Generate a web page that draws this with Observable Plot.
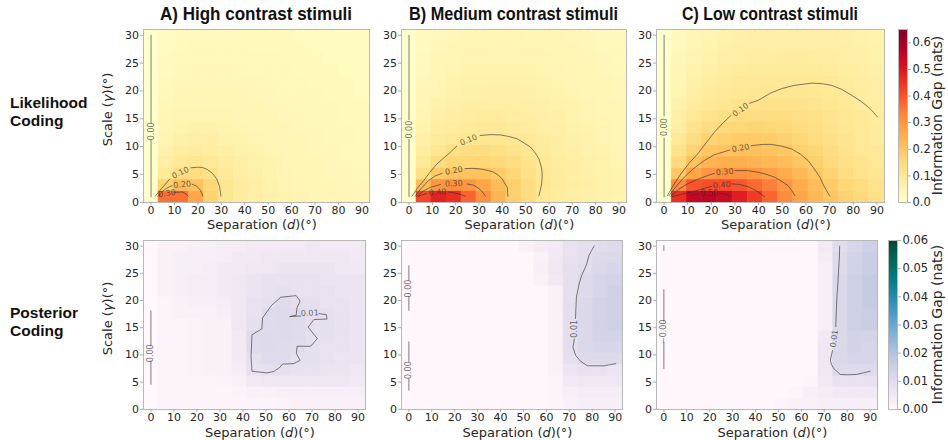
<!DOCTYPE html>
<html><head><meta charset="utf-8">
<script src="https://cdn.jsdelivr.net/npm/d3@7"></script>
<script src="https://cdn.jsdelivr.net/npm/@observablehq/plot@0.6"></script>
<style>
body{margin:0;background:#fff;}
#fig{position:relative;width:948px;height:440px;overflow:hidden;background:#fff;}
</style></head><body><div id="fig"></div>
<script>
// ---------- grid coordinates (cell centres) ----------
const sepX = [0, 6.43, 12.86, 19.29, 25.71, 32.14, 38.57, 45, 51.43, 57.86, 64.29, 70.71, 77.14, 83.57, 90];
const scaleY = [1, 3.07, 5.14, 7.21, 9.29, 11.36, 13.43, 15.5, 17.57, 19.64, 21.71, 23.79, 25.86, 27.93, 30];
const xTicks = [0, 10, 20, 30, 40, 50, 60, 70, 80, 90];
const yTicks = [0, 5, 10, 15, 20, 25, 30];
const likTicks = [0, 0.1, 0.2, 0.3, 0.4, 0.5, 0.6];
const postTicks = [0, 0.01, 0.02, 0.03, 0.04, 0.05, 0.06];
const titles = ["A)  High contrast stimuli", "B)  Medium contrast stimuli", "C)  Low contrast stimuli"];
const rowLabels = [["Likelihood", "Coding"], ["Posterior", "Coding"]];

// ---------- information gap values, rows = scaleY (bottom→top), cols = sepX ----------
const likHigh = [
 [0,.36,.36,.27,.17,.11,.085,.07,.06,.055,.05,.045,.04,.04,.035],
 [0,.17,.22,.21,.16,.11,.085,.07,.06,.05,.045,.04,.04,.035,.035],
 [0,.10,.14,.145,.125,.095,.075,.065,.055,.05,.045,.04,.035,.035,.03],
 [0,.075,.10,.11,.10,.085,.07,.06,.055,.045,.04,.04,.035,.03,.03],
 [0,.06,.08,.085,.08,.07,.06,.055,.05,.045,.04,.035,.035,.03,.03],
 [0,.05,.065,.07,.07,.06,.055,.05,.045,.04,.04,.035,.03,.03,.025],
 [0,.045,.055,.06,.06,.055,.05,.045,.04,.04,.035,.035,.03,.03,.025],
 [0,.04,.05,.05,.05,.05,.045,.045,.04,.035,.035,.03,.03,.025,.025],
 [0,.035,.045,.045,.045,.045,.04,.04,.035,.035,.03,.03,.03,.025,.025],
 [0,.03,.04,.04,.04,.04,.04,.035,.035,.03,.03,.03,.025,.025,.02],
 [0,.03,.035,.035,.035,.035,.035,.035,.03,.03,.03,.025,.025,.025,.02],
 [0,.025,.03,.035,.035,.035,.03,.03,.03,.03,.025,.025,.025,.02,.02],
 [0,.025,.03,.03,.03,.03,.03,.03,.03,.025,.025,.025,.02,.02,.02],
 [0,.02,.025,.03,.03,.03,.03,.025,.025,.025,.025,.02,.02,.02,.02],
 [0,.02,.025,.025,.025,.025,.025,.025,.025,.025,.02,.02,.02,.02,.018]
];
const likMed = [
 [0,.42,.48,.46,.38,.31,.24,.18,.14,.10,.085,.075,.065,.06,.055],
 [0,.22,.30,.31,.30,.27,.22,.18,.14,.11,.09,.08,.07,.06,.055],
 [0,.13,.19,.21,.21,.21,.19,.16,.13,.105,.09,.075,.065,.06,.055],
 [0,.10,.14,.16,.16,.16,.15,.14,.12,.10,.085,.075,.065,.06,.05],
 [0,.08,.11,.13,.14,.14,.13,.12,.11,.09,.08,.07,.06,.055,.05],
 [0,.065,.09,.10,.11,.11,.11,.105,.095,.085,.075,.065,.06,.05,.045],
 [0,.055,.075,.085,.09,.095,.095,.09,.085,.075,.07,.06,.055,.05,.045],
 [0,.05,.065,.075,.08,.085,.085,.08,.075,.07,.065,.055,.05,.045,.04],
 [0,.045,.06,.065,.07,.075,.075,.075,.07,.065,.06,.055,.05,.045,.04],
 [0,.04,.05,.06,.065,.065,.07,.07,.065,.06,.055,.05,.045,.04,.035],
 [0,.035,.045,.055,.06,.06,.06,.06,.06,.055,.05,.045,.04,.04,.035],
 [0,.03,.04,.05,.055,.055,.055,.055,.055,.05,.05,.045,.04,.035,.03],
 [0,.03,.04,.045,.05,.05,.05,.05,.05,.05,.045,.04,.04,.035,.03],
 [0,.025,.035,.04,.045,.045,.05,.05,.045,.045,.04,.04,.035,.03,.03],
 [0,.025,.03,.035,.04,.045,.045,.045,.045,.04,.04,.035,.035,.03,.03]
];
const likLow = [
 [0,.46,.55,.56,.54,.49,.44,.38,.32,.27,.23,.20,.17,.15,.13],
 [0,.32,.40,.41,.41,.40,.37,.34,.30,.26,.22,.19,.16,.14,.12],
 [0,.20,.27,.30,.31,.31,.30,.28,.26,.23,.20,.17,.14,.12,.11],
 [0,.15,.21,.24,.25,.25,.24,.23,.22,.20,.18,.15,.13,.115,.10],
 [0,.12,.17,.20,.21,.215,.215,.21,.20,.18,.16,.14,.12,.105,.095],
 [0,.10,.14,.17,.18,.19,.19,.185,.175,.16,.145,.13,.115,.10,.09],
 [0,.08,.12,.14,.155,.16,.165,.16,.155,.145,.135,.12,.11,.10,.09],
 [0,.07,.10,.12,.13,.14,.14,.14,.14,.13,.125,.115,.105,.095,.085],
 [0,.06,.085,.10,.11,.12,.125,.125,.125,.12,.115,.11,.10,.09,.08],
 [0,.05,.075,.09,.10,.105,.11,.11,.11,.11,.105,.10,.095,.085,.075],
 [0,.045,.065,.08,.09,.095,.095,.10,.10,.10,.10,.095,.09,.08,.07],
 [0,.04,.06,.07,.08,.085,.09,.09,.09,.09,.09,.085,.08,.075,.065],
 [0,.035,.05,.06,.07,.075,.08,.08,.085,.085,.08,.08,.075,.07,.06],
 [0,.03,.045,.055,.065,.07,.075,.075,.075,.075,.075,.075,.07,.065,.06],
 [0,.03,.04,.05,.06,.065,.07,.07,.07,.07,.07,.07,.065,.06,.055]
];
const postHigh = [
 [0,.001,.001,.001,.001,.001,.001,.001,.001,.0015,.002,.002,.002,.002,.002],
 [0,.001,.001,.001,.001,.001,.0015,.002,.002,.003,.003,.003,.003,.003,.003],
 [0,.001,.001,.001,.001,.0015,.002,.005,.006,.006,.006,.006,.006,.006,.005],
 [0,.001,.001,.0015,.002,.002,.004,.008,.009,.009,.008,.008,.007,.007,.006],
 [0,.001,.001,.0015,.002,.002,.005,.009,.0105,.0105,.009,.009,.008,.007,.007],
 [0,.001,.001,.0015,.002,.002,.005,.0105,.011,.0105,.010,.009,.008,.008,.007],
 [0,.001,.001,.0015,.002,.002,.005,.0105,.011,.011,.0105,.009,.009,.008,.007],
 [0,.001,.001,.0015,.002,.002,.006,.009,.0105,.011,.0105,.009,.009,.008,.007],
 [0,.001,.002,.002,.002,.003,.006,.008,.0105,.011,.0105,.0095,.009,.008,.007],
 [0,.001,.002,.003,.003,.004,.006,.008,.009,.0105,.0095,.009,.008,.008,.007],
 [0,.002,.003,.004,.004,.005,.006,.007,.008,.009,.008,.008,.008,.007,.007],
 [0,.002,.003,.004,.004,.005,.006,.007,.008,.008,.008,.008,.007,.007,.007],
 [0,.002,.003,.003,.004,.005,.005,.006,.006,.007,.007,.007,.007,.006,.006],
 [0,.002,.003,.003,.003,.004,.005,.005,.006,.006,.006,.006,.006,.006,.005],
 [0,.002,.002,.003,.003,.004,.004,.005,.005,.005,.005,.006,.005,.005,.005]
];
const postMed = [
 [0,.0005,.0005,.0005,.0005,.0005,.0005,.0005,.0005,.0005,.001,.002,.003,.003,.003],
 [0,.0005,.0005,.0005,.0005,.0005,.0005,.0005,.0005,.0005,.001,.003,.004,.004,.004],
 [0,.0005,.0005,.0005,.0005,.0005,.0005,.0005,.0005,.0005,.001,.005,.006,.006,.006],
 [0,.0005,.0005,.0005,.0005,.0005,.0005,.0005,.0005,.0005,.002,.007,.008,.008,.007],
 [0,.0005,.0005,.0005,.0005,.0005,.0005,.0005,.0005,.0005,.002,.009,.011,.011,.011],
 [0,.0005,.0005,.0005,.0005,.0005,.0005,.0005,.0005,.0005,.002,.0095,.012,.013,.013],
 [0,.0005,.0005,.0005,.0005,.0005,.0005,.0005,.0005,.0005,.002,.0095,.012,.014,.014],
 [0,.0005,.0005,.0005,.0005,.0005,.0005,.0005,.0005,.0005,.002,.0095,.012,.014,.015],
 [0,.0005,.0005,.0005,.0005,.0005,.0005,.0005,.0005,.0005,.002,.0095,.012,.014,.015],
 [0,.0005,.0005,.0005,.0005,.0005,.0005,.0005,.0005,.0005,.002,.0095,.012,.014,.015],
 [0,.0005,.0005,.0005,.0005,.0005,.0005,.0005,.0005,.0005,.002,.009,.011,.013,.015],
 [0,.0005,.0005,.0005,.0005,.0005,.0005,.0005,.0005,.002,.005,.009,.011,.013,.014],
 [0,.0005,.0005,.0005,.0005,.0005,.0005,.0005,.0005,.003,.006,.009,.010,.012,.013],
 [0,.0005,.0005,.0005,.0005,.0005,.0005,.0005,.0005,.002,.005,.008,.0095,.011,.012],
 [0,.0005,.0005,.0005,.0005,.0005,.0005,.0005,.002,.004,.005,.008,.009,.010,.011]
];
const postLow = [
 [0,.0005,.0005,.0005,.0005,.0005,.0005,.0005,.001,.002,.002,.003,.003,.003,.003],
 [0,.0005,.0005,.0005,.0005,.0005,.0005,.0005,.0005,.001,.003,.004,.005,.005,.005],
 [0,.0005,.0005,.0005,.0005,.0005,.0005,.0005,.0005,.0005,.001,.005,.008,.008,.008],
 [0,.0005,.0005,.0005,.0005,.0005,.0005,.0005,.0005,.0005,.0005,.006,.011,.011,.011],
 [0,.0005,.0005,.0005,.0005,.0005,.0005,.0005,.0005,.0005,.0005,.006,.012,.013,.013],
 [0,.0005,.0005,.0005,.0005,.0005,.0005,.0005,.0005,.0005,.0005,.006,.012,.014,.013],
 [0,.0005,.0005,.0005,.0005,.0005,.0005,.0005,.0005,.0005,.0005,.005,.012,.014,.014],
 [0,.0005,.0005,.0005,.0005,.0005,.0005,.0005,.0005,.0005,.0005,.003,.012,.015,.016],
 [0,.0005,.0005,.0005,.0005,.0005,.0005,.0005,.0005,.0005,.0005,.003,.012,.015,.016],
 [0,.0005,.0005,.0005,.0005,.0005,.0005,.0005,.0005,.0005,.0005,.003,.012,.015,.017],
 [0,.0005,.0005,.0005,.0005,.0005,.0005,.0005,.0005,.0005,.0005,.003,.012,.015,.017],
 [0,.0005,.0005,.0005,.0005,.0005,.0005,.0005,.0005,.0005,.0005,.003,.012,.015,.017],
 [0,.0005,.0005,.0005,.0005,.0005,.0005,.0005,.0005,.0005,.0005,.003,.011,.014,.016],
 [0,.0005,.0005,.0005,.0005,.0005,.0005,.0005,.0005,.0005,.0005,.004,.011,.014,.016],
 [0,.0005,.0005,.0005,.0005,.0005,.0005,.0005,.0005,.0005,.0005,.005,.010,.013,.015]
];

// ---------- contour lines and inline labels ----------
const cLikHigh = [
 [[0,1],[0,11.2]], [[0,14.3],[0,30]],
 [[1.8,1.1],[3.5,2],[5.6,3],[8,4.2]],
 [[17,6.2],[19.7,6.3],[22,6.25],[24,5.9],[26.2,5.2],[28,4.2],[29.3,2.8],[29.8,1.1]],
 [[2.8,1.1],[4.5,1.8],[6.5,2.5],[9,3]],
 [[17.5,3.25],[19.5,2.9],[21,2.2],[22.2,1.1]],
 [[3.5,1.1],[4.0,1.3]],
 [[9.6,1.8],[13.5,1.85],[15,1.5],[15.7,1.1]]
];
const lLikHigh = [
 {x:0,y:12.75,t:"0.00",a:-90},{x:12.5,y:5.3,t:"0.10",a:-26},{x:13.3,y:3.2,t:"0.20",a:-6},{x:6.8,y:1.6,t:"0.30",a:-8}
];
const cLikMed = [
 [[0,1],[0,11.3]], [[0,14.8],[0,30]],
 [[1.3,1.1],[3.5,2.5],[6.3,3.9],[9,5.4],[12,6.9],[15,8],[17.7,9],[20.5,10.1]],
 [[30.5,12],[35,12.15],[39.2,12.1],[43,11.8],[46.4,11.4],[49.5,10.6],[52.1,9.9],[54.2,8.8],[55.7,7.8],[56.8,6.2],[57.1,5.1],[56.9,3.5],[56.3,2.2],[55.7,1.2]],
 [[2.7,1.1],[5,2.4],[8.4,3.9],[11,4.7],[14.2,5.2]],
 [[24,6.05],[27,6.1],[30.6,6],[34,5.7],[36.3,5.4],[38.5,4.8],[39.9,4.2],[41.2,3.3],[42.1,2.7],[42.4,1.1]],
 [[3.4,1.1],[6,2],[9.2,2.7],[13.5,3.2]],
 [[24.9,3.3],[27.5,3.1],[29.2,2.7],[31.2,2],[32.8,1.1]],
 [[4.1,1.1],[5.7,1.35],[7.6,1.55]],
 [[16.8,1.85],[19,1.75],[21.3,1.5],[23,1.3],[24.2,1.1]]
];
const lLikMed = [
 {x:0,y:13.05,t:"0.00",a:-90},{x:25.5,y:11.2,t:"0.10",a:-22},{x:19.2,y:5.7,t:"0.20",a:-10},{x:19.2,y:3.35,t:"0.30",a:-2},{x:12.2,y:1.8,t:"0.40",a:-5}
];
const cLikLow = [
 [[0,1],[0,11.5]], [[0,15.5],[0,30]],
 [[1.4,1.2],[4,3.1],[7.1,5.1],[10.5,7],[14.2,8.7],[18,10.8],[21.3,12.6],[25,14.3],[28.3,15.6]],
 [[36.2,17.8],[39.7,18.3],[45,19.6],[49.6,20.4],[55,21],[62.4,21.4],[67,21.3],[70.9,21],[75,20.3],[79.4,19.2],[83,18.2],[86.4,17.1],[88.5,16.2],[90.3,15.3]],
 [[2.1,1.2],[5,2.8],[8.5,4.5],[12,5.9],[17,7.5],[21,8.5],[27.8,9.4]],
 [[36.8,10.15],[38.3,10.25],[42,10.4],[45.3,10.4],[49.5,10.1],[53.8,9.6],[57.5,8.7],[60.9,7.5],[63.5,6],[65.9,4.5],[67.5,3],[68.7,2.1],[70.1,1.1]],
 [[2.8,1.1],[6,2.3],[9.9,3.3],[14,4.1],[18.4,4.8],[21.3,5.2]],
 [[30,5.7],[35,5.7],[39.7,5.4],[43.5,5.0],[46.8,4.5],[50,3.7],[52.4,3],[54,2.1],[55.3,1.2]],
 [[3.5,1],[7,1.4],[11.3,1.8],[16,2.4],[20.2,2.85]],
 [[28.6,3.3],[32,3.2],[35.4,2.8],[39,2.1],[42.5,1]],
 [[11.3,1.2],[13,1.4],[14.8,1.55]],
 [[23.4,1.6],[26,1.45],[28.3,1.1]]
];
const lLikLow = [
 {x:0,y:13.5,t:"0.00",a:-90},{x:32.3,y:16.6,t:"0.10",a:-35},{x:32.3,y:9.75,t:"0.20",a:-10},{x:25.6,y:5.45,t:"0.30",a:-5},{x:24.4,y:3.1,t:"0.40",a:-4},{x:19.1,y:1.6,t:"0.50",a:0}
];
const cPostHigh = [
 [[0,4.6],[0,8.9]], [[0,11.7],[0,18.1]],
 [[73,17.6],[76.2,17.4],[76.5,16.6],[70.8,16.5],[68.3,15.1],[72.3,13],[69.4,11.6],[63.5,11.6],[63.2,10.3],[64.8,9],[62.1,8.4],[57.1,8.3],[56,7.7],[53.1,6.9],[50.3,6.7],[43.9,7],[43.5,9.7],[43.9,13.7],[48.2,14.8],[48.5,16.8],[52.4,19.1],[56.4,20.6],[63.1,20.9],[64.8,19.9],[63.5,18.7],[63.1,17.3],[60.3,17.05],[65,17.15]]
];
const lPostHigh = [
 {x:0,y:10.3,t:"0.00",a:-90},{x:69,y:17.7,t:"0.01",a:-3}
];
const cPostMed = [
 [[0,26.4],[0,23.7]], [[0,20.7],[0,18.2]], [[0,12.4],[0,8.8]], [[0,5.6],[0,3.5]],
 [[80.8,30],[79.5,29],[78.6,28.3],[77.6,26.7],[75.4,24.6],[74.3,23.1],[73.1,20.6],[72.8,17.6],[72.7,16.7]],
 [[72.2,12.9],[71.6,11.4],[72.8,9.9],[75,8.8],[77.9,8],[85.2,8],[90.3,8.4]]
];
const lPostMed = [
 {x:0,y:22.2,t:"0.00",a:-90},{x:0,y:7.2,t:"0.00",a:-90},{x:72.4,y:14.8,t:"0.01",a:-90}
];
const cPostLow = [
 [[0,30.1],[0,29.2]], [[0,22],[0,16.2]], [[0,12.3],[0,7.5]],
 [[76.7,30],[76.6,28],[76.4,26.7],[75.9,23],[75.5,20.6],[75.2,17.5],[75,15.2]],
 [[73.6,10.8],[72.6,9],[73.2,8.2],[74.1,7.5],[77,6.4],[80,6.35],[83.9,6.4],[87,6.7],[90,7]]
];
const lPostLow = [
 {x:0,y:14.25,t:"−0.00",a:-90},{x:74.3,y:13,t:"0.01",a:-82}
];

// ---------- helpers ----------
function edges(c) {
  const n = c.length, e = [c[0] - (c[1] - c[0]) / 2];
  for (let i = 0; i < n - 1; i++) e.push((c[i] + c[i + 1]) / 2);
  e.push(c[n - 1] + (c[n - 1] - c[n - 2]) / 2);
  return e;
}
const fig = document.getElementById("fig");
const xe = edges(sepX), ye = edges(scaleY);
const FONT = "DejaVu Sans, sans-serif";

function panel(vals, conts, labs, scheme, dom, g) {
  const cells = [];
  vals.forEach((row, j) => row.forEach((v, i) => cells.push({x1: xe[i], x2: xe[i + 1], y1: ye[j], y2: ye[j + 1], v})));
  const lines = [];
  conts.forEach((seg, k) => seg.forEach(([x, y]) => lines.push({x, y, id: k})));
  const ml = 32, mr = 4, mt = 4, mb = 22;
  const p = Plot.plot({
    width: g.r - g.l + ml + mr, height: g.b - g.t + mt + mb,
    marginLeft: ml, marginRight: mr, marginTop: mt, marginBottom: mb,
    style: {fontFamily: FONT, fontSize: "11px", background: "transparent", overflow: "visible"},
    x: {domain: [xe[0], xe[xe.length - 1]]},
    y: {domain: [ye[0], ye[ye.length - 1]]},
    color: {type: "linear", scheme, domain: dom, clamp: true},
    marks: [
      Plot.rect(cells, {x1: "x1", x2: "x2", y1: "y1", y2: "y2", fill: "v", stroke: "v", strokeWidth: 0.6, clip: true}),
      Plot.line(lines, {x: "x", y: "y", z: "id", stroke: "#333", strokeOpacity: 0.7, strokeWidth: 0.9}),
      Plot.text(labs, {x: "x", y: "y", text: "t", rotate: "a", fontSize: 8, fill: "#333", fillOpacity: 0.75}),
      Plot.frame({stroke: "#b8b8b8"}),
      Plot.axisX({ticks: xTicks, tickSize: 3, tickPadding: 1, stroke: "#aaa", fill: "#262626", label: null, fontSize: 11}),
      Plot.axisY({ticks: yTicks, tickSize: 3, tickPadding: 1.5, stroke: "#aaa", fill: "#262626", label: null, fontSize: 11})
    ]
  });
  p.style.position = "absolute";
  p.style.left = (g.l - ml) + "px";
  p.style.top = (g.t - mt) + "px";
  fig.appendChild(p);
}

function colorbar(scheme, dom, ticks, fmt, g) {
  const mr = 34, mt = 4, mb = 4;
  const p = Plot.plot({
    width: g.r - g.l + mr, height: g.b - g.t + mt + mb,
    marginLeft: 0, marginRight: mr, marginTop: mt, marginBottom: mb,
    style: {fontFamily: FONT, fontSize: "11.5px", background: "transparent", overflow: "visible"},
    x: {domain: [0, 1], axis: null},
    y: {domain: dom},
    color: {type: "linear", scheme, domain: dom},
    marks: [
      Plot.raster({fill: (x, y) => y, x1: 0, x2: 1, y1: dom[0], y2: dom[1], pixelSize: 1}),
      Plot.frame({stroke: "#b8b8b8"}),
      Plot.axisY({anchor: "right", ticks, tickFormat: d3.format(fmt), tickSize: 3, tickPadding: 2, stroke: "#aaa", fill: "#262626", label: null, fontSize: 11.5})
    ]
  });
  p.style.position = "absolute";
  p.style.left = g.l + "px";
  p.style.top = (g.t - mt) + "px";
  fig.appendChild(p);
}

// ---------- layout ----------
const topG = [{l:143,r:369,t:29,b:202},{l:401,r:626,t:29,b:202},{l:656,r:884,t:29,b:202}];
const botG = [{l:143,r:365,t:240,b:409},{l:401,r:622,t:240,b:409},{l:656,r:877,t:240,b:409}];

panel(likHigh, cLikHigh, lLikHigh, "ylorrd", [0, 0.65], topG[0]);
panel(likMed,  cLikMed,  lLikMed,  "ylorrd", [0, 0.65], topG[1]);
panel(likLow,  cLikLow,  lLikLow,  "ylorrd", [0, 0.65], topG[2]);
panel(postHigh, cPostHigh, lPostHigh, "pubugn", [0, 0.06], botG[0]);
panel(postMed,  cPostMed,  lPostMed,  "pubugn", [0, 0.06], botG[1]);
panel(postLow,  cPostLow,  lPostLow,  "pubugn", [0, 0.06], botG[2]);
colorbar("ylorrd", [0, 0.65], likTicks, ".1f", {l:898,r:907,t:29,b:202});
colorbar("pubugn", [0, 0.06], postTicks, ".2f", {l:888,r:897,t:240,b:409});

// ---------- text overlay ----------
const svg = d3.select(fig).append("svg").attr("width", 948).attr("height", 440)
  .style("position", "absolute").style("left", 0).style("top", 0).style("pointer-events", "none");
const titleW = [192, 209, 176];
titles.forEach((t, i) => {
  const cx = (topG[i].l + topG[i].r) / 2;
  svg.append("text").attr("x", cx).attr("y", 19.5).attr("text-anchor", "middle")
    .attr("font-family", "Liberation Sans Narrow, Liberation Sans, Arial, sans-serif").attr("font-weight", "bold")
    .attr("font-size", 19).attr("textLength", titleW[i]).attr("lengthAdjust", "spacingAndGlyphs")
    .attr("fill", "#111").text(t);
});
rowLabels.forEach((lines, r) => {
  const base = r === 0 ? 108 : 318;
  lines.forEach((s, k) => svg.append("text").attr("x", 10).attr("y", base + k * 18)
    .attr("font-family", "Liberation Sans, Arial, sans-serif").attr("font-weight", "bold")
    .attr("font-size", 15.5).attr("fill", "#111").text(s));
});
function xlabel(cx, y) {
  const t = svg.append("text").attr("x", cx).attr("y", y).attr("text-anchor", "middle")
    .attr("font-family", FONT).attr("font-size", 13).attr("fill", "#262626");
  t.append("tspan").text("Separation (");
  t.append("tspan").attr("font-style", "italic").text("d");
  t.append("tspan").text(")(°)");
}
function ylabel(x, cy) {
  const t = svg.append("text").attr("transform", `translate(${x},${cy}) rotate(-90)`).attr("text-anchor", "middle")
    .attr("font-family", FONT).attr("font-size", 13).attr("fill", "#262626");
  t.append("tspan").text("Scale (");
  t.append("tspan").attr("font-style", "italic").text("γ");
  t.append("tspan").text(")(°)");
}
topG.forEach(g => xlabel((g.l + g.r) / 2 + 6, 228.5));
botG.forEach(g => xlabel((g.l + g.r) / 2 + 6, 436.5));
ylabel(112, (topG[0].t + topG[0].b) / 2 - 6);
ylabel(112, (botG[0].t + botG[0].b) / 2 - 6);
[[115.5], [324.5]].forEach(([cy]) => {
  svg.append("text").attr("transform", `translate(941.5,${cy}) rotate(-90)`).attr("text-anchor", "middle")
    .attr("font-family", FONT).attr("font-size", 14).attr("fill", "#262626").text("Information Gap (nats)");
});
</script></body></html>
